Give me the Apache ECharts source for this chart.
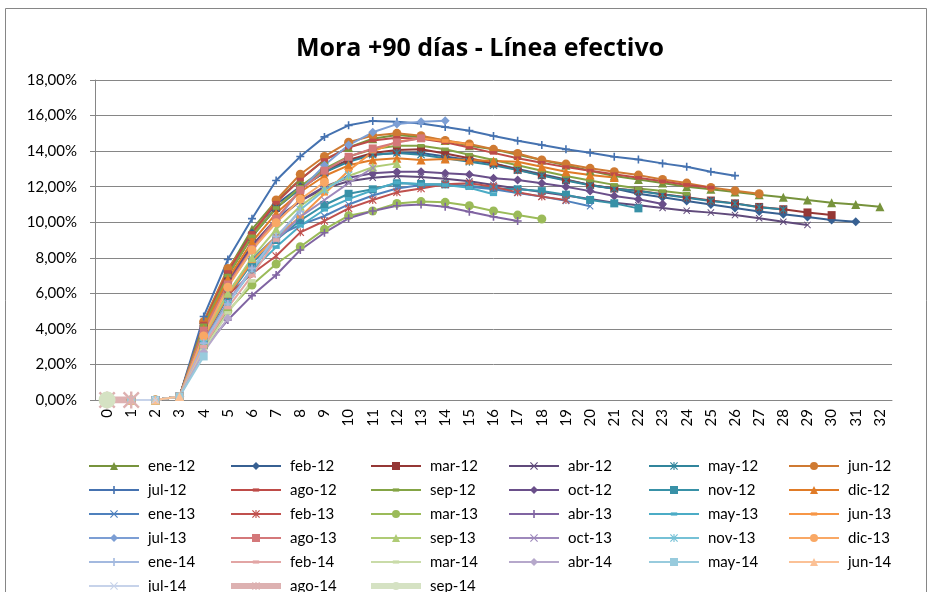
<!DOCTYPE html>
<html><head><meta charset="utf-8">
<script src="https://cdn.jsdelivr.net/npm/echarts@6/dist/echarts.min.js"></script>
<style>html,body{margin:0;padding:0;background:#fff}#c{width:933px;height:592px}</style>
</head><body><div id="c"></div><script>
const months = ['0','1','2','3','4','5','6','7','8','9','10','11','12','13','14','15','16','17','18','19','20','21','22','23','24','25','26','27','28','29','30','31','32'];
const seriesNames = ['ene-12','feb-12','mar-12','abr-12','may-12','jun-12','jul-12','ago-12','sep-12','oct-12','nov-12','dic-12','ene-13','feb-13','mar-13','abr-13','may-13','jun-13','jul-13','ago-13','sep-13','oct-13','nov-13','dic-13','ene-14','feb-14','mar-14','abr-14','may-14','jun-14','jul-14','ago-14','sep-14'];
// values in %
const ene12 = [0,0,0,0.2,4.4,7.3,9.6,11.2,12.4,13.5,14.2,14.7,14.9,14.8,14.6,14.3,14.1,13.8,13.5,13.2,12.9,12.6,12.4,12.2,12.0,11.85,11.7,11.55,11.4,11.25,11.1,11.0,10.87];
const feb12 = [0,0,0,0.2,4.3,7.2,9.4,11.0,12.0,12.9,13.5,13.8,13.9,13.9,13.7,13.5,13.3,13.0,12.7,12.4,12.1,11.9,11.6,11.4,11.2,11.0,10.8,10.6,10.45,10.3,10.12,10.03];
const mar12 = [0,0,0,0.2,4.2,7.0,9.2,10.8,11.9,12.8,13.5,13.9,14.06,14.1,13.87,13.6,13.3,12.95,12.65,12.37,12.1,11.9,11.77,11.58,11.4,11.22,11.06,10.86,10.73,10.55,10.4];
const abr12 = [0,0,0,0.2,4.0,6.7,8.7,10.2,11.2,11.9,12.3,12.5,12.6,12.55,12.45,12.3,12.1,11.9,11.7,11.5,11.3,11.1,10.95,10.8,10.65,10.54,10.4,10.22,10.03,9.85];
const may12 = [0,0,0,0.2,4.3,7.1,9.2,10.8,11.9,12.8,13.4,13.8,13.9,13.8,13.6,13.4,13.2,12.93,12.63,12.35,12.08,11.88,11.75,11.56,11.38,11.2,11.05,10.84,10.72];
const jun12 = [0,0,0,0.2,4.4,7.4,9.2,11.25,12.7,13.7,14.5,14.87,15.0,14.87,14.6,14.4,14.1,13.87,13.5,13.27,13.03,12.84,12.65,12.4,12.2,11.96,11.77,11.6];
const jul12 = [0,0,0,0.2,4.7,7.9,10.2,12.35,13.7,14.8,15.45,15.7,15.65,15.55,15.35,15.15,14.85,14.58,14.34,14.1,13.91,13.68,13.53,13.31,13.12,12.84,12.62];
const ago12 = [0,0,0,0.2,4.3,7.2,9.4,11.1,12.4,13.5,14.2,14.6,14.75,14.7,14.5,14.2,13.9,13.6,13.35,13.1,12.9,12.7,12.5,12.3,12.1,11.95];
const sep12 = [0,0,0,0.2,4.2,7.0,9.2,10.8,12.0,13.0,13.7,14.1,14.3,14.3,14.1,13.8,13.5,13.2,12.9,12.6,12.35,12.1,11.9,11.75,11.6];
const oct12 = [0,0,0,0.2,3.9,6.6,8.6,10.1,11.2,12.0,12.5,12.75,12.84,12.84,12.75,12.69,12.47,12.37,12.19,12.0,11.75,11.47,11.29,11.02];
const nov12 = [0,0,0,0.2,3.4,5.8,7.7,9.0,10.1,10.97,11.6,11.85,12.19,12.15,12.13,12.05,11.9,11.85,11.75,11.55,11.25,11.06,10.78];
const dic12 = [0,0,0,0.2,4.0,6.8,8.9,10.5,11.7,12.6,13.2,13.5,13.6,13.5,13.55,13.5,13.45,13.4,13.12,12.84,12.65,12.52];
const ene13 = [0,0,0,0.2,3.6,6.0,7.9,9.2,9.85,10.35,11.0,11.5,11.9,12.1,12.1,12.0,11.85,11.65,11.45,11.2,10.9];
const feb13 = [0,0,0,0.2,3.5,5.9,7.1,8.1,9.43,10.07,10.78,11.25,11.68,11.9,12.13,12.19,12.0,11.68,11.44,11.25];
const mar13 = [0,0,0,0.2,3.0,5.0,6.47,7.65,8.62,9.6,10.37,10.63,11.06,11.16,11.12,10.93,10.63,10.4,10.18];
const abr13 = [0,0,0,0.2,2.9,4.5,5.87,7.03,8.44,9.41,10.22,10.63,10.93,11.0,10.87,10.59,10.31,10.07];
const may13 = [0,0,0,0.2,3.3,5.5,7.3,8.6,9.8,10.7,11.3,11.8,12.24,12.13,12.09,11.94,11.57];
const jun13 = [0,0,0,0.2,3.5,5.9,7.8,9.2,10.3,11.6,12.9,13.97,14.53,14.72,14.57,14.38];
const jul13 = [0,0,0,0.2,3.8,6.4,8.4,10.1,11.8,13.2,14.34,15.06,15.52,15.65,15.71];
const ago13 = [0,0,0,0.2,3.9,6.5,8.5,10.2,11.8,12.9,13.68,14.15,14.49,14.72];
const sep13 = [0,0,0,0.2,3.6,6.0,8.0,9.6,10.9,11.9,12.6,13.1,13.31];
const oct13 = [0,0,0,0.2,3.3,5.5,7.4,9.0,10.3,11.25,12.2,13.05];
const nov13 = [0,0,0,0.2,3.2,5.4,7.3,9.1,10.7,11.8,12.65];
const dic13 = [0,0,0,0.2,3.6,6.34,8.44,9.97,11.29,12.25];
const ene14 = [0,0,0,0.2,3.2,5.4,7.4,9.2,10.6];
const feb14 = [0,0,0,0.2,3.0,5.2,7.0,9.0];
const mar14 = [0,0,0,0.2,2.8,4.9,6.7];
const abr14 = [0,0,0,0.2,2.7,4.6];
const may14 = [0,0,0,0.2,2.45];
const jun14 = [0,0,0,0.2];
const jul14 = [0,0,0];
const ago14 = [0,0];
const sep14 = [0];
const seriesValues = [ene12,feb12,mar12,abr12,may12,jun12,jul12,ago12,sep12,oct12,nov12,dic12,ene13,feb13,mar13,abr13,may13,jun13,jul13,ago13,sep13,oct13,nov13,dic13,ene14,feb14,mar14,abr14,may14,jun14,jul14,ago14,sep14];
const yTicks = {min:0, max:18, interval:2};

const colors = ['#77933C','#376092','#953735','#604A7B','#31859C','#CF7A32',
  '#4572B0','#BE4B48','#84A445','#6A4F8A','#3891A7','#E07B27',
  '#4F81BD','#C0504D','#9BBB59','#8064A2','#4BACC6','#F79646',
  '#7C9ED4','#D4787A','#AFCB75','#9E89BC','#76C1D6','#F9A865',
  '#A3B9DF','#E2A5A4','#C9DBA8','#B6A8CB','#98CBDD','#FBC196',
  '#C7D3EA','#DDB1B1','#D5E2C3'];
const P = {
  plus:'path://M4,0H6V4H10V6H6V10H4V6H0V4H4Z',
  x:'path://M0,1L1,0L5,4L9,0L10,1L6,5L10,9L9,10L5,6L1,10L0,9L4,5Z',
  star:'path://M0,1L1,0L5,4L9,0L10,1L6,5L10,9L9,10L5,6L1,10L0,9L4,5Z M4.3,0H5.7V10H4.3Z',
  dash:'path://M0,0L0,0M10,10L10,10M1,3H9V7H1Z'
};
const markerCycle = ['triangle','diamond','rect','x','star','circle',
  'plus','dash','dash','diamond','rect','triangle',
  'x','star','circle','plus','dash','dash',
  'diamond','rect','triangle','x','star','circle',
  'plus','dash','dash','diamond','rect','triangle',
  'x','star','circle'];
const sizeOf = {triangle:9,diamond:9,rect:8,x:7,star:8,circle:9,plus:8,dash:9};

const series = seriesNames.map((n,i)=>{
  const m = markerCycle[i];
  const thick = (i===31||i===32);
  return {
    name:n, type:'line', data:seriesValues[i],
    symbol: P[m] || m,
    symbolSize: thick ? 17 : sizeOf[m],
    showAllSymbol:true, smooth:false, animation:false,
    lineStyle:{color:colors[i], width: thick ? 7 : 2},
    itemStyle:{color:colors[i], borderWidth:0},
    emphasis:{disabled:true}
  };
});

const legends = [0,1,2,3,4,5].map(c=>({
  orient:'vertical', left:88+140*c, top:458, height:200, padding:0,
  itemWidth:50, itemHeight:10, itemGap:8,
  selectedMode:false,
  data: seriesNames.map((n,i)=>({n,i})).filter(o=>o.i%6===c).map(o=>
    (o.i>=31) ? {name:o.n, lineStyle:{width:6}} : {name:o.n}),
  textStyle:{fontFamily:'Lato', fontSize:15, color:'#000', lineHeight:16, padding:[0,0,0,4]}
}));

const chart = echarts.init(document.getElementById('c'));
chart.setOption({
  animation:false,
  color: colors,
  graphic:[
    {type:'rect', silent:true, z:-10, shape:{x:5.5,y:8.5,width:921,height:600}, style:{fill:'#fff', stroke:'#868686', lineWidth:1}},
    {type:'text', x:480, y:49, style:{text:'Mora +90 días - Línea efectivo', font:'bold 25px "Open Sans"', fill:'#000', align:'center', verticalAlign:'middle', textAlign:'center', textVerticalAlign:'middle'}}
  ],
  grid:{left:95, right:41, top:80, bottom:192, containLabel:false},
  legend: legends,
  xAxis:{type:'category', data:months, boundaryGap:true,
    axisLine:{show:true, lineStyle:{color:'#868686'}},
    axisTick:{show:false},
    axisLabel:{rotate:90, fontFamily:'Lato', fontSize:15, color:'#000', margin:9, interval:0}
  },
  yAxis:{type:'value', min:yTicks.min, max:yTicks.max, interval:yTicks.interval,
    axisLine:{show:true, lineStyle:{color:'#868686'}},
    axisTick:{show:true, length:5, lineStyle:{color:'#868686'}},
    splitLine:{show:true, lineStyle:{color:'#868686', width:1}},
    axisLabel:{fontFamily:'Lato', fontSize:15, color:'#000', margin:18,
      formatter:v=>v.toFixed(2).replace('.',',')+'%'}
  },
  series: series
});
</script></body></html>
